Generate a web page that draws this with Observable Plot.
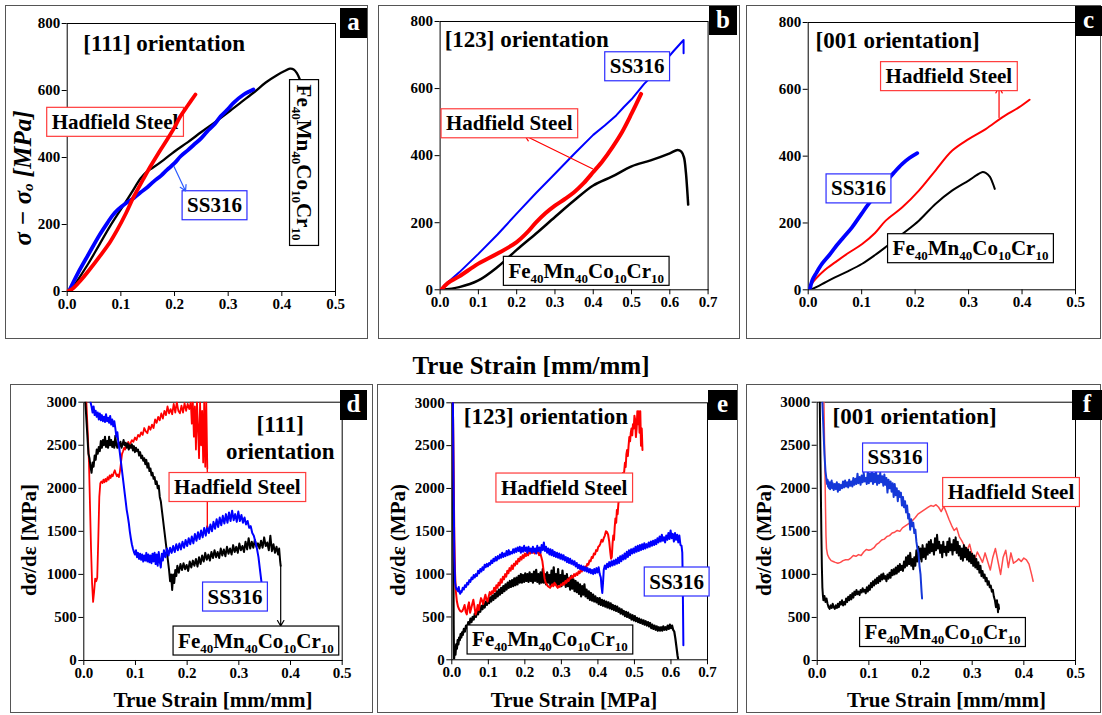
<!DOCTYPE html>
<html><head><meta charset="utf-8">
<script src="https://cdn.jsdelivr.net/npm/d3@7"></script>
<script src="https://cdn.jsdelivr.net/npm/@observablehq/plot@0.6"></script>
<style>
body{margin:0;background:#fff;}
#root{position:relative;width:1102px;height:715px;overflow:hidden;background:#fff;font-family:"Liberation Serif","Times New Roman",serif;}
.panel{position:absolute;}
.panel svg{position:absolute;left:0;top:0;overflow:visible;}
.border{position:absolute;left:0;top:0;right:0;bottom:0;border:1.5px solid #555;box-sizing:border-box;pointer-events:none;}
.tag{position:absolute;background:#000;color:#fff;font-weight:bold;font-size:25px;text-align:center;font-family:"Liberation Serif",serif;}
</style></head><body><div id="root"></div>
<script>
// ---------- tick labels ----------
const X_TICKS_05 = [0, 0.1, 0.2, 0.3, 0.4, 0.5];
const X_TICKS_07 = [0, 0.1, 0.2, 0.3, 0.4, 0.5, 0.6, 0.7];
const Y_TICKS_TOP = [0, 200, 400, 600, 800];
const Y_TICKS_BOT = [0, 500, 1000, 1500, 2000, 2500, 3000];

// ---------- panel a: [111] stress ----------
const A_HADFIELD = [[0,0],[0.01,8],[0.025,33],[0.04,62],[0.062,108],[0.08,148],[0.093,183],[0.11,235],[0.124,283],[0.14,330],[0.155,373],[0.17,413],[0.186,453],[0.2,490],[0.211,523],[0.225,556],[0.239,588]];
const A_SS316 = [[0.003,0],[0.02,55],[0.04,112],[0.06,168],[0.075,205],[0.085,228],[0.095,245],[0.11,264],[0.125,280],[0.137,296],[0.15,312],[0.161,328],[0.175,346],[0.186,363],[0.2,383],[0.211,403],[0.225,422],[0.236,438],[0.25,458],[0.261,478],[0.275,500],[0.286,523],[0.3,545],[0.31,563],[0.329,588],[0.347,603]];
const A_FE = [[0.005,0],[0.02,35],[0.04,85],[0.06,140],[0.08,195],[0.1,245],[0.12,295],[0.137,338],[0.15,360],[0.16,370],[0.18,393],[0.2,418],[0.225,446],[0.25,476],[0.275,505],[0.3,535],[0.325,566],[0.35,597],[0.37,624],[0.39,645],[0.405,658],[0.415,665],[0.422,663],[0.428,652],[0.433,635]];

// ---------- panel b: [123] stress ----------
const B_SS316 = [[0.003,0],[0.01,12],[0.03,32],[0.05,52],[0.1,107],[0.15,165],[0.2,227],[0.25,288],[0.3,346],[0.35,405],[0.4,462],[0.43,490],[0.46,520],[0.48,545],[0.5,568],[0.533,614],[0.56,645],[0.585,679],[0.61,712],[0.633,741],[0.636,745],[0.636,705]];
const B_HADFIELD = [[0.003,0],[0.02,20],[0.05,40],[0.1,78],[0.15,108],[0.2,142],[0.225,168],[0.25,200],[0.275,228],[0.3,251],[0.325,270],[0.35,291],[0.375,318],[0.4,351],[0.425,385],[0.45,425],[0.475,470],[0.5,525],[0.515,560],[0.525,584]];
const B_FE = [[0.003,0],[0.05,8],[0.1,28],[0.15,68],[0.2,119],[0.25,167],[0.3,217],[0.35,266],[0.4,311],[0.45,338],[0.5,368],[0.55,386],[0.6,407],[0.62,417],[0.63,412],[0.637,395],[0.642,350],[0.645,306],[0.648,254]];

// ---------- panel c: [001] stress ----------
const C_SS316 = [[0.003,0],[0.0075,28],[0.015,50],[0.026,78],[0.04,105],[0.051,128],[0.065,155],[0.082,187],[0.1,228],[0.113,257],[0.13,290],[0.145,322],[0.16,350],[0.176,377],[0.19,395],[0.204,409]];
const C_HADFIELD = [[0.005,15],[0.014,33],[0.03,58],[0.051,83],[0.075,110],[0.101,137],[0.125,170],[0.145,207],[0.176,247],[0.207,297],[0.238,357],[0.269,416],[0.3,451],[0.332,481],[0.363,516],[0.394,546],[0.414,569]];
const C_FE = [[0.004,0],[0.02,12],[0.051,38],[0.075,56],[0.101,78],[0.125,104],[0.145,128],[0.176,167],[0.207,207],[0.238,257],[0.269,297],[0.3,327],[0.315,343],[0.325,352],[0.332,350],[0.34,338],[0.345,320],[0.349,302]];

// ---------- panel d: [111] hardening rate ----------
const D_FE = [[0.003,3000],[0.006,2700],[0.009,2400],[0.011,2350],[0.013,2250],[0.015,2180],[0.017,2300],[0.019,2250],[0.021,2380],[0.023,2330],[0.025,2450],[0.027,2400],[0.029,2480],[0.031,2430],[0.033,2550],[0.035,2470],[0.037,2560],[0.039,2500],[0.041,2600],[0.043,2480],[0.045,2550],[0.047,2470],[0.049,2600],[0.051,2500],[0.053,2560],[0.055,2480],[0.057,2540],[0.059,2470],[0.061,2610],[0.063,2500],[0.065,2470],[0.067,2530],[0.069,2490],[0.071,2540],[0.073,2470],[0.075,2510],[0.077,2560],[0.079,2500],[0.081,2530],[0.083,2470],[0.085,2520],[0.087,2450],[0.089,2500],[0.091,2470],[0.093,2510],[0.095,2440],[0.097,2490],[0.099,2420],[0.101,2470],[0.103,2430],[0.105,2450],[0.107,2380],[0.109,2420],[0.111,2350],[0.113,2380],[0.115,2320],[0.117,2350],[0.119,2280],[0.121,2330],[0.123,2240],[0.125,2290],[0.127,2200],[0.129,2230],[0.131,2150],[0.133,2180],[0.135,2110],[0.137,2130],[0.139,2050],[0.141,2080],[0.143,2000],[0.145,2030],[0.147,1900],[0.149,1850],[0.151,1750],[0.153,1650],[0.155,1550],[0.157,1450],[0.159,1350],[0.161,1250],[0.163,1150],[0.165,1050],[0.167,920],[0.169,1000],[0.171,820],[0.173,1000],[0.175,900],[0.177,1050],[0.179,980],[0.181,1100],[0.184,1020],[0.187,1120],[0.19,1050],[0.193,1130],[0.196,1060],[0.199,1110],[0.202,1040],[0.205,1150],[0.208,1080],[0.211,1160],[0.214,1100],[0.217,1180],[0.22,1090],[0.223,1200],[0.226,1120],[0.229,1220],[0.232,1150],[0.235,1250],[0.238,1170],[0.241,1230],[0.244,1160],[0.247,1260],[0.25,1190],[0.253,1280],[0.256,1200],[0.259,1260],[0.262,1190],[0.265,1300],[0.268,1220],[0.271,1290],[0.274,1210],[0.277,1320],[0.28,1240],[0.283,1300],[0.286,1230],[0.289,1340],[0.292,1260],[0.295,1320],[0.298,1250],[0.301,1360],[0.304,1280],[0.307,1330],[0.31,1260],[0.313,1380],[0.316,1290],[0.319,1420],[0.322,1300],[0.325,1380],[0.328,1310],[0.331,1400],[0.334,1320],[0.337,1360],[0.34,1300],[0.343,1390],[0.346,1310],[0.349,1430],[0.352,1330],[0.355,1370],[0.358,1280],[0.361,1450],[0.364,1270],[0.367,1350],[0.37,1250],[0.373,1320],[0.376,1230],[0.378,1300],[0.38,1150],[0.381,1100]];
const D_SS316 = [[0.013,3000],[0.015,2950],[0.017,2880],[0.019,2950],[0.021,2850],[0.023,2900],[0.025,2830],[0.027,2880],[0.029,2800],[0.031,2870],[0.033,2790],[0.035,2850],[0.037,2780],[0.039,2830],[0.041,2770],[0.043,2860],[0.045,2780],[0.047,2820],[0.049,2760],[0.051,2840],[0.053,2740],[0.055,2800],[0.057,2720],[0.059,2780],[0.061,2700],[0.063,2600],[0.065,2650],[0.067,2520],[0.069,2450],[0.071,2350],[0.073,2250],[0.075,2150],[0.077,2050],[0.079,1950],[0.081,1850],[0.083,1750],[0.085,1680],[0.087,1600],[0.089,1500],[0.091,1420],[0.093,1350],[0.095,1300],[0.097,1260],[0.099,1230],[0.101,1280],[0.103,1200],[0.105,1250],[0.107,1180],[0.109,1240],[0.111,1170],[0.113,1230],[0.115,1150],[0.117,1220],[0.119,1160],[0.121,1250],[0.123,1150],[0.125,1230],[0.127,1140],[0.129,1220],[0.131,1130],[0.133,1240],[0.135,1150],[0.137,1250],[0.139,1120],[0.141,1230],[0.143,1100],[0.145,1260],[0.147,1150],[0.149,1080],[0.151,1240],[0.153,1160],[0.155,1280],[0.158,1200],[0.161,1300],[0.164,1220],[0.167,1310],[0.17,1250],[0.173,1330],[0.176,1260],[0.179,1350],[0.182,1280],[0.185,1360],[0.188,1290],[0.191,1380],[0.194,1310],[0.197,1400],[0.2,1330],[0.203,1420],[0.206,1350],[0.209,1440],[0.212,1360],[0.215,1470],[0.218,1390],[0.221,1490],[0.224,1410],[0.227,1510],[0.23,1430],[0.233,1540],[0.236,1450],[0.239,1560],[0.242,1480],[0.245,1580],[0.248,1500],[0.251,1610],[0.254,1530],[0.257,1640],[0.26,1550],[0.263,1660],[0.266,1570],[0.269,1680],[0.272,1590],[0.275,1700],[0.278,1600],[0.281,1720],[0.284,1620],[0.287,1740],[0.29,1630],[0.293,1700],[0.296,1610],[0.299,1730],[0.302,1620],[0.305,1690],[0.308,1600],[0.311,1660],[0.314,1580],[0.317,1620],[0.32,1540],[0.323,1560],[0.326,1480],[0.329,1450],[0.332,1380],[0.335,1300],[0.338,1200],[0.341,1050],[0.343,950],[0.344,900]];
const D_HADFIELD = [[0.005,3000],[0.008,2600],[0.01,2300],[0.012,1800],[0.014,1300],[0.016,900],[0.018,680],[0.02,800],[0.022,950],[0.024,920],[0.026,960],[0.028,1400],[0.03,1900],[0.032,2060],[0.034,2080],[0.036,2060],[0.038,2100],[0.04,2070],[0.042,2110],[0.044,2080],[0.046,2130],[0.048,2100],[0.05,2150],[0.052,2120],[0.054,2160],[0.056,2140],[0.058,2180],[0.06,2210],[0.062,2170],[0.064,2140],[0.066,2160],[0.068,2130],[0.07,2200],[0.072,2300],[0.074,2400],[0.076,2430],[0.078,2470],[0.08,2450],[0.082,2520],[0.084,2480],[0.086,2540],[0.088,2500],[0.09,2520],[0.093,2560],[0.096,2540],[0.099,2590],[0.102,2560],[0.105,2620],[0.108,2600],[0.111,2650],[0.114,2620],[0.117,2700],[0.12,2660],[0.123,2640],[0.126,2720],[0.129,2680],[0.132,2740],[0.135,2700],[0.138,2800],[0.141,2760],[0.144,2830],[0.147,2790],[0.15,2870],[0.153,2810],[0.156,2900],[0.159,2850],[0.162,2950],[0.165,2870],[0.168,2920],[0.171,2860],[0.174,2980],[0.177,2880],[0.18,3000],[0.183,2900],[0.186,2870],[0.189,2960],[0.192,2880],[0.195,2990],[0.198,2900],[0.201,2980],[0.204,2920],[0.207,3000],[0.209,2750],[0.211,3000],[0.213,2600],[0.215,2950],[0.217,2450],[0.219,3000],[0.221,2700],[0.223,2350],[0.225,3000],[0.227,2500],[0.229,2900],[0.231,2300],[0.233,3000],[0.235,2250],[0.237,3000],[0.239,2230]];

// ---------- panel e: [123] hardening rate ----------
const E_SS316 = [[0.003,3000],[0.005,2000],[0.007,1200],[0.009,900],[0.011,850],[0.013,820],[0.015,830],[0.017,800],[0.019,850],[0.021,790],[0.023,770],[0.025,800],[0.027,790],[0.03,840],[0.033,820],[0.036,870],[0.039,850],[0.042,900],[0.045,880],[0.048,930],[0.051,910],[0.054,960],[0.057,940],[0.06,990],[0.063,960],[0.066,1000],[0.069,980],[0.072,1040],[0.075,1010],[0.078,1060],[0.081,1030],[0.084,1080],[0.087,1050],[0.09,1110],[0.093,1080],[0.096,1120],[0.099,1090],[0.102,1130],[0.105,1110],[0.108,1160],[0.111,1130],[0.114,1180],[0.117,1150],[0.12,1200],[0.123,1160],[0.126,1210],[0.129,1180],[0.132,1230],[0.135,1190],[0.138,1250],[0.141,1200],[0.144,1240],[0.147,1210],[0.15,1270],[0.153,1220],[0.156,1280],[0.159,1230],[0.162,1260],[0.165,1240],[0.168,1290],[0.171,1250],[0.174,1300],[0.177,1260],[0.18,1310],[0.183,1270],[0.186,1320],[0.189,1250],[0.192,1310],[0.195,1260],[0.198,1330],[0.201,1270],[0.204,1310],[0.207,1250],[0.21,1320],[0.213,1270],[0.216,1300],[0.219,1250],[0.222,1320],[0.225,1260],[0.228,1300],[0.231,1240],[0.234,1330],[0.237,1270],[0.24,1310],[0.243,1250],[0.246,1340],[0.249,1280],[0.252,1370],[0.255,1270],[0.258,1320],[0.261,1250],[0.264,1300],[0.267,1230],[0.27,1290],[0.273,1220],[0.276,1280],[0.279,1210],[0.282,1260],[0.285,1200],[0.288,1250],[0.291,1190],[0.294,1240],[0.297,1180],[0.3,1230],[0.303,1170],[0.306,1220],[0.309,1160],[0.312,1200],[0.315,1140],[0.318,1190],[0.321,1130],[0.324,1180],[0.327,1120],[0.33,1160],[0.333,1110],[0.336,1150],[0.339,1090],[0.342,1130],[0.345,1070],[0.348,1110],[0.351,1060],[0.354,1100],[0.357,1050],[0.36,1090],[0.363,1040],[0.366,1080],[0.369,1030],[0.372,1070],[0.375,1020],[0.378,1060],[0.381,1010],[0.384,1050],[0.387,1000],[0.39,1060],[0.393,1010],[0.396,1070],[0.399,1020],[0.402,1080],[0.405,1000],[0.408,960],[0.41,850],[0.412,780],[0.414,900],[0.416,1050],[0.419,1100],[0.422,1060],[0.425,1120],[0.428,1080],[0.431,1140],[0.434,1090],[0.437,1150],[0.44,1100],[0.443,1160],[0.446,1110],[0.449,1170],[0.452,1120],[0.455,1190],[0.458,1130],[0.461,1210],[0.464,1150],[0.467,1220],[0.47,1170],[0.473,1240],[0.476,1180],[0.479,1260],[0.482,1200],[0.485,1280],[0.488,1220],[0.491,1290],[0.494,1240],[0.497,1300],[0.5,1250],[0.503,1320],[0.506,1260],[0.509,1330],[0.512,1270],[0.515,1340],[0.518,1280],[0.521,1350],[0.524,1290],[0.527,1360],[0.53,1300],[0.533,1350],[0.536,1310],[0.539,1370],[0.542,1320],[0.545,1380],[0.548,1330],[0.551,1390],[0.554,1340],[0.557,1400],[0.56,1350],[0.563,1420],[0.566,1370],[0.569,1440],[0.572,1380],[0.575,1460],[0.578,1390],[0.581,1430],[0.584,1370],[0.587,1450],[0.59,1400],[0.593,1480],[0.596,1410],[0.599,1510],[0.602,1420],[0.605,1470],[0.608,1380],[0.611,1480],[0.614,1400],[0.617,1460],[0.62,1370],[0.623,1450],[0.626,1340],[0.629,1330],[0.631,1250],[0.632,1000],[0.633,600],[0.634,170]];
const E_HADFIELD = [[0.003,3000],[0.005,2200],[0.007,1400],[0.009,1000],[0.011,800],[0.014,680],[0.017,620],[0.02,590],[0.023,570],[0.026,560],[0.029,570],[0.032,600],[0.035,640],[0.038,560],[0.041,530],[0.044,620],[0.047,670],[0.05,550],[0.053,600],[0.056,650],[0.059,700],[0.062,620],[0.065,530],[0.068,570],[0.071,640],[0.074,580],[0.077,660],[0.08,720],[0.083,690],[0.086,650],[0.089,710],[0.092,760],[0.095,700],[0.098,680],[0.101,740],[0.104,790],[0.107,760],[0.11,800],[0.113,780],[0.116,840],[0.119,800],[0.122,870],[0.125,840],[0.128,900],[0.131,870],[0.134,940],[0.137,900],[0.14,970],[0.143,940],[0.146,1000],[0.149,970],[0.152,1040],[0.155,1010],[0.158,1070],[0.161,1040],[0.164,1100],[0.167,1060],[0.17,1120],[0.173,1100],[0.176,1150],[0.179,1120],[0.182,1180],[0.185,1150],[0.188,1200],[0.191,1170],[0.194,1220],[0.197,1190],[0.2,1240],[0.203,1210],[0.206,1250],[0.209,1220],[0.212,1270],[0.215,1240],[0.218,1280],[0.221,1250],[0.224,1260],[0.227,1240],[0.23,1280],[0.233,1250],[0.236,1270],[0.239,1220],[0.242,1250],[0.245,1200],[0.248,1150],[0.251,1050],[0.254,950],[0.257,900],[0.26,880],[0.263,860],[0.266,850],[0.269,840],[0.272,860],[0.275,880],[0.278,860],[0.281,900],[0.284,880],[0.287,860],[0.29,840],[0.293,860],[0.296,850],[0.299,880],[0.302,870],[0.305,900],[0.308,880],[0.311,920],[0.314,900],[0.317,940],[0.32,920],[0.323,960],[0.326,950],[0.329,980],[0.332,960],[0.335,1000],[0.338,980],[0.341,1010],[0.344,990],[0.347,1030],[0.35,1010],[0.353,1050],[0.356,1030],[0.359,1070],[0.362,1050],[0.365,1090],[0.368,1080],[0.371,1120],[0.374,1110],[0.377,1160],[0.38,1150],[0.383,1200],[0.386,1190],[0.389,1240],[0.392,1230],[0.395,1280],[0.398,1270],[0.401,1320],[0.404,1330],[0.407,1360],[0.41,1400],[0.413,1380],[0.416,1420],[0.419,1450],[0.422,1500],[0.425,1490],[0.428,1460],[0.431,1380],[0.434,1250],[0.436,1180],[0.438,1200],[0.44,1350],[0.442,1450],[0.444,1400],[0.446,1550],[0.448,1650],[0.45,1600],[0.452,1750],[0.454,1700],[0.456,1820],[0.458,1900],[0.46,1850],[0.462,2000],[0.464,2100],[0.466,2050],[0.468,2180],[0.47,2150],[0.472,2200],[0.474,2300],[0.476,2250],[0.478,2400],[0.48,2450],[0.482,2380],[0.484,2500],[0.486,2600],[0.488,2550],[0.49,2650],[0.492,2700],[0.494,2620],[0.496,2750],[0.498,2700],[0.5,2850],[0.502,2800],[0.504,2600],[0.506,2700],[0.508,2900],[0.51,2750],[0.512,2900],[0.514,2650],[0.516,2900],[0.518,2500],[0.52,2700],[0.522,2450]];
const E_FE = [[0.003,3000],[0.004,1500],[0.005,400],[0.006,0],[0.008,120],[0.01,60],[0.012,180],[0.014,130],[0.016,230],[0.018,180],[0.02,260],[0.022,230],[0.024,300],[0.026,260],[0.028,320],[0.03,290],[0.033,360],[0.036,330],[0.039,400],[0.042,370],[0.045,440],[0.048,410],[0.051,480],[0.054,440],[0.057,500],[0.06,470],[0.063,540],[0.066,500],[0.069,570],[0.072,530],[0.075,600],[0.078,560],[0.081,630],[0.084,590],[0.087,660],[0.09,610],[0.093,680],[0.096,640],[0.099,710],[0.102,660],[0.105,730],[0.108,680],[0.111,750],[0.114,700],[0.117,770],[0.12,720],[0.123,800],[0.126,740],[0.129,820],[0.132,760],[0.135,840],[0.138,780],[0.141,860],[0.144,800],[0.147,880],[0.15,820],[0.153,900],[0.156,840],[0.159,920],[0.162,850],[0.165,930],[0.168,860],[0.171,950],[0.174,870],[0.177,960],[0.18,880],[0.183,980],[0.186,900],[0.189,1000],[0.192,900],[0.195,990],[0.198,910],[0.201,1010],[0.204,920],[0.207,1000],[0.21,910],[0.213,1020],[0.216,920],[0.219,1000],[0.222,900],[0.225,1030],[0.228,920],[0.231,1050],[0.234,910],[0.237,1000],[0.24,890],[0.243,1020],[0.246,900],[0.249,1060],[0.252,900],[0.255,1000],[0.258,880],[0.261,1020],[0.264,900],[0.267,990],[0.27,870],[0.273,1040],[0.276,890],[0.279,1080],[0.282,880],[0.285,1000],[0.288,860],[0.291,1060],[0.294,880],[0.297,990],[0.3,860],[0.303,1040],[0.306,880],[0.309,980],[0.312,850],[0.315,1000],[0.318,860],[0.321,950],[0.324,820],[0.327,980],[0.33,830],[0.333,940],[0.336,800],[0.339,920],[0.342,790],[0.345,900],[0.348,770],[0.351,880],[0.354,740],[0.357,860],[0.36,760],[0.363,880],[0.366,740],[0.369,820],[0.372,720],[0.375,800],[0.378,700],[0.381,780],[0.384,690],[0.387,760],[0.39,680],[0.393,740],[0.396,670],[0.399,720],[0.402,650],[0.405,720],[0.408,640],[0.411,700],[0.414,630],[0.417,690],[0.42,620],[0.423,680],[0.426,610],[0.429,670],[0.432,600],[0.435,660],[0.438,590],[0.441,640],[0.444,580],[0.447,630],[0.45,570],[0.453,620],[0.456,560],[0.459,600],[0.462,540],[0.465,590],[0.468,530],[0.471,570],[0.474,510],[0.477,560],[0.48,500],[0.483,550],[0.486,490],[0.489,530],[0.492,470],[0.495,520],[0.498,460],[0.501,510],[0.504,450],[0.507,490],[0.51,440],[0.513,480],[0.516,430],[0.519,470],[0.522,420],[0.525,460],[0.528,410],[0.531,450],[0.534,400],[0.537,440],[0.54,390],[0.543,430],[0.546,370],[0.549,410],[0.552,360],[0.555,400],[0.558,350],[0.561,390],[0.564,340],[0.567,380],[0.57,340],[0.573,380],[0.576,340],[0.579,390],[0.582,350],[0.585,380],[0.588,350],[0.591,400],[0.594,360],[0.597,410],[0.6,370],[0.603,400],[0.606,350],[0.609,330],[0.612,250],[0.615,150],[0.618,50],[0.62,0]];

// ---------- panel f: [001] hardening rate ----------
const F_HADFIELD = [[0.013,3000],[0.014,2600],[0.015,2200],[0.016,1800],[0.017,1450],[0.018,1300],[0.02,1230],[0.023,1190],[0.027,1160],[0.031,1150],[0.035,1140],[0.04,1130],[0.045,1140],[0.05,1160],[0.055,1170],[0.06,1170],[0.065,1190],[0.07,1220],[0.075,1210],[0.08,1230],[0.085,1220],[0.09,1260],[0.095,1290],[0.1,1280],[0.105,1290],[0.11,1310],[0.115,1350],[0.12,1370],[0.125,1400],[0.13,1410],[0.135,1440],[0.14,1450],[0.145,1480],[0.15,1490],[0.155,1510],[0.16,1500],[0.165,1540],[0.17,1560],[0.175,1580],[0.18,1600],[0.185,1630],[0.19,1660],[0.195,1700],[0.2,1720],[0.205,1740],[0.21,1760],[0.215,1780],[0.22,1800],[0.225,1790],[0.23,1810],[0.235,1780],[0.24,1730],[0.245,1790],[0.25,1720],[0.255,1640],[0.26,1570],[0.265,1510],[0.27,1540],[0.275,1440],[0.28,1390],[0.285,1330],[0.29,1280],[0.295,1350],[0.3,1230],[0.305,1170],[0.31,1260],[0.315,1200],[0.32,1140],[0.325,1250],[0.33,1150],[0.335,1050],[0.34,1200],[0.345,1300],[0.35,1150],[0.355,1000],[0.36,1200],[0.365,1280],[0.37,1080],[0.375,1250],[0.38,1130],[0.385,1150],[0.39,1180],[0.395,1150],[0.4,1190],[0.405,1170],[0.41,1120],[0.415,1000],[0.418,920]];
const F_SS316 = [[0.01,3000],[0.012,2700],[0.014,2400],[0.015,2300],[0.016,2200],[0.017,2150],[0.018,2100],[0.019,2050],[0.02,2100],[0.021,2020],[0.022,2080],[0.023,2000],[0.024,2060],[0.025,1990],[0.026,2070],[0.027,2010],[0.028,2090],[0.029,2000],[0.03,2060],[0.032,1980],[0.034,2050],[0.036,1990],[0.038,2070],[0.04,1960],[0.042,2050],[0.044,1980],[0.046,2040],[0.048,2000],[0.05,2080],[0.052,2010],[0.054,2090],[0.056,2020],[0.058,2070],[0.06,2010],[0.062,2100],[0.064,2030],[0.066,2080],[0.068,2020],[0.07,2120],[0.072,2040],[0.074,2110],[0.076,2050],[0.078,2170],[0.08,2060],[0.082,2130],[0.084,2040],[0.086,2150],[0.088,2070],[0.09,2180],[0.092,2080],[0.094,2120],[0.096,2050],[0.098,2200],[0.1,2060],[0.102,2170],[0.104,2080],[0.106,2200],[0.108,2050],[0.11,2170],[0.112,2070],[0.114,2190],[0.116,2040],[0.118,2150],[0.12,2060],[0.122,2180],[0.124,2070],[0.126,2140],[0.128,2030],[0.13,2160],[0.132,2040],[0.134,2120],[0.136,1950],[0.138,2100],[0.14,2000],[0.142,2080],[0.144,1960],[0.146,2060],[0.148,1900],[0.15,2050],[0.152,1920],[0.154,2000],[0.156,1850],[0.158,1970],[0.16,1900],[0.162,1950],[0.164,1800],[0.166,1900],[0.168,1780],[0.17,1850],[0.172,1720],[0.174,1800],[0.176,1650],[0.178,1700],[0.18,1520],[0.182,1640],[0.184,1560],[0.186,1600],[0.188,1480],[0.19,1520],[0.192,1380],[0.194,1300],[0.196,1250],[0.198,1100],[0.2,1000],[0.201,900],[0.202,800],[0.203,720]];
const F_FE = [[0.005,3000],[0.006,2500],[0.007,2000],[0.008,1500],[0.009,1100],[0.01,850],[0.011,760],[0.012,700],[0.014,750],[0.016,680],[0.018,720],[0.02,660],[0.022,620],[0.024,600],[0.026,640],[0.028,610],[0.03,660],[0.032,620],[0.034,600],[0.036,640],[0.038,610],[0.04,660],[0.042,620],[0.044,680],[0.046,650],[0.048,700],[0.05,640],[0.052,680],[0.054,650],[0.056,720],[0.058,680],[0.06,740],[0.062,700],[0.064,760],[0.066,710],[0.068,780],[0.07,730],[0.072,800],[0.074,760],[0.076,820],[0.078,770],[0.08,800],[0.082,760],[0.084,820],[0.086,790],[0.088,840],[0.09,800],[0.092,820],[0.094,780],[0.096,850],[0.098,800],[0.1,870],[0.102,820],[0.104,900],[0.106,850],[0.108,920],[0.11,870],[0.112,940],[0.114,890],[0.116,960],[0.118,900],[0.12,980],[0.122,920],[0.124,1000],[0.126,940],[0.128,1010],[0.13,950],[0.132,980],[0.134,920],[0.136,1000],[0.138,950],[0.14,1020],[0.142,960],[0.144,1050],[0.146,990],[0.148,1060],[0.15,1000],[0.152,1080],[0.154,1010],[0.156,1100],[0.158,1030],[0.16,1120],[0.162,1050],[0.164,1100],[0.166,1040],[0.168,1150],[0.17,1080],[0.172,1200],[0.174,1100],[0.176,1220],[0.178,1120],[0.18,1250],[0.182,1100],[0.184,1180],[0.186,1060],[0.188,1200],[0.19,1100],[0.192,1280],[0.194,1150],[0.196,1320],[0.198,1180],[0.2,1300],[0.202,1150],[0.204,1340],[0.206,1200],[0.208,1300],[0.21,1180],[0.212,1350],[0.214,1230],[0.216,1380],[0.218,1250],[0.22,1400],[0.222,1270],[0.224,1350],[0.226,1230],[0.228,1420],[0.23,1280],[0.232,1460],[0.234,1300],[0.236,1380],[0.238,1250],[0.24,1340],[0.242,1200],[0.244,1380],[0.246,1260],[0.248,1320],[0.25,1220],[0.252,1380],[0.254,1260],[0.256,1420],[0.258,1280],[0.26,1350],[0.262,1230],[0.264,1400],[0.266,1280],[0.268,1430],[0.27,1250],[0.272,1380],[0.274,1220],[0.276,1330],[0.278,1180],[0.28,1300],[0.282,1160],[0.284,1340],[0.286,1200],[0.288,1310],[0.29,1170],[0.292,1290],[0.294,1150],[0.296,1260],[0.298,1130],[0.3,1240],[0.302,1100],[0.304,1220],[0.306,1080],[0.308,1180],[0.31,1060],[0.312,1140],[0.314,1020],[0.316,1100],[0.318,980],[0.32,1040],[0.322,960],[0.324,1000],[0.326,920],[0.328,960],[0.33,880],[0.332,920],[0.334,850],[0.336,870],[0.338,800],[0.34,820],[0.342,740],[0.344,700],[0.346,620],[0.348,700],[0.35,560],[0.351,650],[0.352,600]];

// ---------- text ----------
const SERIES_NAMES = ["Hadfield Steel", "SS316", "Fe40Mn40Co10Cr10"];
const ORIENT = ["[111] orientation", "[123] orientation", "[001 orientation]", "[111]\norientation", "[123] orientation", "[001 orientation]"];
const PANEL_TAGS = ["a", "b", "c", "d", "e", "f"];
const X_LABELS = ["True Strain [mm/mm]", "True Strain [MPa]", "True Strain [mm/mm]"];
const Y_LABELS_BOT = ["dσ/dε [MPa]", "dσ/dε (MPa)", "dσ/dε (MPa)"];
const MID_LABEL = "True Strain [mm/mm]";

const FONT = '"Liberation Serif","Times New Roman",serif';
const RED = "#ff0000", BLUE = "#0000ff", BLACK = "#000000";
const root = document.getElementById("root");

function addBoxes(svgEl, plot, labels, under) {
  const xs = plot.scale("x"), ys = plot.scale("y");
  const sx = d3.scaleLinear(xs.domain, xs.range), sy = d3.scaleLinear(ys.domain, ys.range);
  const layer = d3.create("svg:g");
  if (under) {
    const first = svgEl.querySelector('g[aria-label="line"]');
    svgEl.insertBefore(layer.node(), first);
  } else svgEl.appendChild(layer.node());
  for (const L of labels) {
    const g = layer.append("g").attr("transform", `translate(${sx(L.x)},${sy(L.y)}) rotate(${L.rotate || 0})`);
    const rect = g.append("rect").attr("fill", "#fff").attr("stroke", L.border).attr("stroke-width", 1.2);
    const t = g.append("text").attr("text-anchor", "middle").attr("y", 7)
      .attr("font-family", FONT).attr("font-weight", "bold").attr("font-size", 21).attr("fill", "#000");
    const parts = L.sub ? L.text.match(/[A-Za-z]+|\d+/g) : [L.text];
    let off = 0;
    for (const s of parts) {
      const isSub = L.sub && /^\d+$/.test(s);
      const target = isSub ? 5 : 0;
      t.append("tspan").attr("dy", target - off).attr("font-size", isSub ? 13 : 21).text(s);
      off = target;
    }
    const bb = t.node().getBBox();
    const h = L.h || 29;
    rect.attr("x", bb.x - 5).attr("y", -h / 2).attr("width", bb.width + 10).attr("height", h);
  }
}

function makePanel(p) {
  const [fx, fy, fw, fh] = p.frame;
  const wrap = document.createElement("div");
  wrap.className = "panel";
  wrap.style.cssText = `left:${fx}px;top:${fy}px;width:${fw}px;height:${fh}px;`;
  root.appendChild(wrap);
  const marks = [
    Plot.frame({stroke: "#000", strokeWidth: 1}),
    Plot.axisX({ticks: p.xTicks, tickFormat: d => d.toFixed(1), tickSize: 5, tickPadding: 2, label: null}),
    Plot.axisY({ticks: p.yTicks, tickFormat: d => String(d), tickSize: 5, tickPadding: 2, label: null}),
    ...p.series.map(s => Plot.line(s.data, {x: d => d[0], y: d => d[1], stroke: s.color, strokeWidth: s.width,
      curve: s.curve || "linear", strokeLinejoin: "round", clip: true})),
    ...(p.links || []).map(a => Plot.link([a], {x1: "x1", y1: "y1", x2: "x2", y2: "y2", stroke: a.color, strokeWidth: 1.3})),
    ...(p.arrows || []).map(a => Plot.arrow([a], {x1: "x1", y1: "y1", x2: "x2", y2: "y2", stroke: a.color, strokeWidth: 1.2, headLength: 8})),
    Plot.text([p.title], {x: "x", y: "y", text: "text", textAnchor: p.title.anchor || "start", fontSize: 23,
      fontWeight: "bold", lineHeight: 1.2, fill: "#000"})
  ];
  const plot = Plot.plot({
    width: fw, height: fh,
    marginLeft: p.m[0], marginRight: p.m[1], marginTop: p.m[2], marginBottom: p.m[3],
    x: {domain: p.xDomain},
    y: {domain: p.yDomain},
    style: {background: "transparent", fontFamily: FONT, fontSize: "15px", fontWeight: "bold", color: "#000", overflow: "visible"},
    marks
  });
  wrap.appendChild(plot);
  addBoxes(plot, plot, p.labels, p.under);
  const svg = d3.select(plot);
  if (p.ylab) {
    const t = svg.append("text").attr("transform", `translate(${p.ylab.x},${p.ylab.y}) rotate(-90)`)
      .attr("text-anchor", "middle").attr("dominant-baseline", "central")
      .attr("font-family", FONT).attr("font-weight", "bold").attr("font-size", p.ylab.size).attr("fill", "#000");
    if (p.ylab.italic) t.attr("font-style", "italic");
    if (p.ylab.parts) {
      for (const [s, sub] of p.ylab.parts) t.append("tspan").attr("dy", sub ? 6 : (sub === false ? -6 : 0))
        .attr("font-size", sub ? p.ylab.size * 0.6 : p.ylab.size).text(s);
    } else t.text(p.ylab.text);
  }
  if (p.xlab) {
    svg.append("text").attr("x", p.xlab.x).attr("y", p.xlab.y).attr("text-anchor", "middle")
      .attr("font-family", FONT).attr("font-weight", "bold").attr("font-size", 21).attr("fill", "#000").text(p.xlab.text);
  }
  const b = document.createElement("div"); b.className = "border"; wrap.appendChild(b);
  const tg = document.createElement("div"); tg.className = "tag";
  const [tx, ty, tw, th] = p.tag;
  tg.style.cssText = `left:${tx - fx}px;top:${ty - fy}px;width:${tw}px;height:${th}px;line-height:${th - 2}px;`;
  tg.textContent = p.tagText;
  wrap.appendChild(tg);
}

const HAD = {text: SERIES_NAMES[0], border: "#ff3b3b"};
const SS = {text: SERIES_NAMES[1], border: "#2b2bff"};
const FE = {text: SERIES_NAMES[2], border: "#000", sub: true};

const panels = [
  { frame: [5, 5, 363, 334], m: [61.7, 33, 18, 48], xDomain: [0, 0.5], yDomain: [0, 800], xTicks: X_TICKS_05, yTicks: Y_TICKS_TOP,
    series: [{data: A_FE, color: BLACK, width: 2.3, curve: "catmull-rom"}, {data: A_SS316, color: BLUE, width: 3.8, curve: "catmull-rom"}, {data: A_HADFIELD, color: RED, width: 3.8, curve: "catmull-rom"}],
    arrows: [{x1: 0.199, y1: 373, x2: 0.2205, y2: 300, color: "#2b5bff"}],
    labels: [{...HAD, x: 0.09, y: 505}, {...SS, x: 0.2755, y: 256}, {...FE, x: 0.4423, y: 383.5, rotate: 90}], under: true,
    title: {x: 0.03, y: 743, text: ORIENT[0]},
    ylab: {x: 17, y: 173, size: 25, italic: true, parts: [["σ − σ", 0], ["o", true], [" [MPa]", false]]},
    tag: [340, 8, 27, 30], tagText: PANEL_TAGS[0] },
  { frame: [377.7, 5, 362.3, 334], m: [61.6, 32.7, 16, 49.7], xDomain: [0, 0.7], yDomain: [0, 800], xTicks: X_TICKS_07, yTicks: Y_TICKS_TOP,
    series: [{data: B_FE, color: BLACK, width: 2.5, curve: "catmull-rom"}, {data: B_SS316, color: BLUE, width: 2, curve: "linear"}, {data: B_HADFIELD, color: RED, width: 4, curve: "catmull-rom"}],
    arrows: [{x1: 0.398, y1: 361, x2: 0.221, y2: 460, color: RED}],
    labels: [{...HAD, x: 0.182, y: 495}, {...SS, x: 0.516, y: 665}, {...FE, x: 0.383, y: 55}],
    title: {x: 0.012, y: 750, text: ORIENT[1]},
    tag: [709, 6, 28, 29], tagText: PANEL_TAGS[1] },
  { frame: [746, 5, 355, 334], m: [61.7, 26, 17, 49.7], xDomain: [0, 0.5], yDomain: [0, 800], xTicks: X_TICKS_05, yTicks: Y_TICKS_TOP,
    series: [{data: C_FE, color: BLACK, width: 2, curve: "catmull-rom"}, {data: C_HADFIELD, color: RED, width: 2, curve: "catmull-rom"}, {data: C_SS316, color: BLUE, width: 3.8, curve: "catmull-rom"}],
    arrows: [{x1: 0.357, y1: 516, x2: 0.357, y2: 606, color: RED}],
    labels: [{...HAD, x: 0.264, y: 638}, {...SS, x: 0.095, y: 302}, {...FE, x: 0.3045, y: 123}],
    title: {x: 0.0137, y: 750, text: ORIENT[2]},
    tag: [1075, 6, 27, 30], tagText: PANEL_TAGS[2] },
  { frame: [10, 384, 362.7, 329], m: [73.3, 31, 17.7, 53], xDomain: [0, 0.5], yDomain: [0, 3000], xTicks: X_TICKS_05, yTicks: Y_TICKS_BOT,
    series: [{data: D_HADFIELD, color: RED, width: 1.8}, {data: D_FE, color: BLACK, width: 2}, {data: D_SS316, color: BLUE, width: 2}],
    links: [{x1: 0.239, y1: 2230, x2: 0.239, y2: 1545, color: RED}],
    arrows: [{x1: 0.381, y1: 1103, x2: 0.381, y2: 400, color: BLACK}],
    labels: [{...HAD, x: 0.298, y: 2009}, {...SS, x: 0.2935, y: 737}, {...FE, x: 0.334, y: 226}],
    title: {x: 0.38, y: 2600, text: ORIENT[3], anchor: "middle"},
    ylab: {x: 19, y: 156, size: 21, text: Y_LABELS_BOT[0]},
    xlab: {x: 203, y: 323, text: X_LABELS[0]},
    tag: [340, 390, 27, 30], tagText: PANEL_TAGS[3] },
  { frame: [376.7, 384, 361.3, 329], m: [74.3, 31.3, 18.3, 53.7], xDomain: [0, 0.7], yDomain: [0, 3000], xTicks: X_TICKS_07, yTicks: Y_TICKS_BOT,
    series: [{data: E_FE, color: BLACK, width: 2.2}, {data: E_HADFIELD, color: RED, width: 2}, {data: E_SS316, color: BLUE, width: 2}],
    labels: [{...HAD, x: 0.309, y: 2005}, {...SS, x: 0.617, y: 908}, {...FE, x: 0.27, y: 231}],
    title: {x: 0.033, y: 2852, text: ORIENT[4]},
    ylab: {x: 21, y: 156, size: 21, text: Y_LABELS_BOT[1]},
    xlab: {x: 197, y: 323, text: X_LABELS[1]},
    tag: [708, 390, 29, 30], tagText: PANEL_TAGS[4] },
  { frame: [746, 384, 355, 329], m: [70.7, 26, 17.7, 53], xDomain: [0, 0.5], yDomain: [0, 3000], xTicks: X_TICKS_05, yTicks: Y_TICKS_BOT,
    series: [{data: F_HADFIELD, color: "#ff4a4a", width: 1.5}, {data: F_FE, color: BLACK, width: 2}, {data: F_SS316, color: "#1538d8", width: 2}],
    labels: [{...SS, x: 0.1516, y: 2352}, {...HAD, x: 0.376, y: 1951}, {...FE, x: 0.2435, y: 325}],
    title: {x: 0.0296, y: 2845, text: ORIENT[5]},
    ylab: {x: 18, y: 156, size: 21, text: Y_LABELS_BOT[2]},
    xlab: {x: 200.5, y: 323, text: X_LABELS[2]},
    tag: [1072, 390, 30, 30], tagText: PANEL_TAGS[5] }
];

panels.forEach(makePanel);

// middle shared x label
const mid = d3.select(root).append("svg").attr("width", 1102).attr("height", 715)
  .style("position", "absolute").style("left", 0).style("top", 0).style("pointer-events", "none");
mid.append("text").attr("x", 531).attr("y", 374).attr("text-anchor", "middle")
  .attr("font-family", FONT).attr("font-weight", "bold").attr("font-size", 25).attr("fill", "#000").text(MID_LABEL);
</script></body></html>
